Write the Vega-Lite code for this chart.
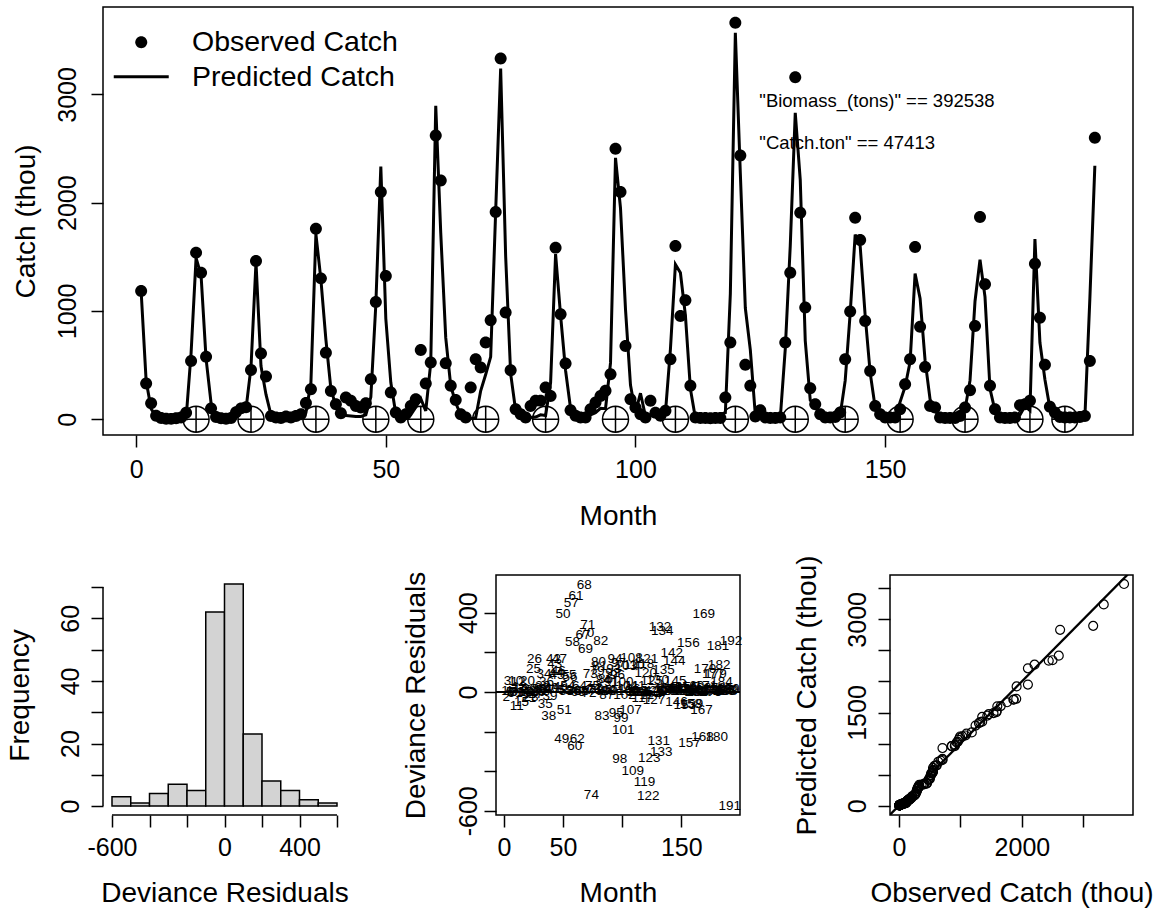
{
  "$schema": "https://vega.github.io/schema/vega-lite/v6.json",
  "background": "white",
  "padding": {"left": 6, "top": 6, "right": 10, "bottom": 5},
  "config": {
    "font": "Liberation Sans",
    "view": {"stroke": "black", "strokeWidth": 1.5},
    "axis": {"grid": false, "domain": false, "tickColor": "black", "tickWidth": 1.5, "tickSize": 12,
      "labelColor": "black", "labelFont": "Liberation Sans", "labelFontSize": 25, "labelPadding": 8,
      "labelFlush": false, "labelOverlap": false, "titleColor": "black", "titleFont": "Liberation Sans",
      "titleFontSize": 28, "titleFontWeight": "normal", "titlePadding": 19},
    "axisY": {"labelAngle": -90, "labelAlign": "center", "labelBaseline": "bottom"},
    "axisX": {"labelBaseline": "top"}
  },
  "datasets": {
    "catch": [
      {"month":1,"obs":1185,"pred":1180,"resid":5},{"month":2,"obs":329,"pred":355,"resid":-26},{"month":3,"obs":148,"pred":95,"resid":53},{"month":4,"obs":31,"pred":25,"resid":6},{"month":5,"obs":10,"pred":12,"resid":-2},{"month":6,"obs":5,"pred":8,"resid":-3},{"month":7,"obs":3,"pred":6,"resid":-3},{"month":8,"obs":8,"pred":8,"resid":0},{"month":9,"obs":15,"pred":14,"resid":1},{"month":10,"obs":60,"pred":5,"resid":55},
      {"month":11,"obs":538,"pred":609,"resid":-71},{"month":12,"obs":1538,"pred":1490,"resid":48},{"month":13,"obs":1354,"pred":1330,"resid":24},{"month":14,"obs":578,"pred":560,"resid":18},{"month":15,"obs":100,"pred":150,"resid":-50},{"month":16,"obs":20,"pred":25,"resid":-5},{"month":17,"obs":8,"pred":10,"resid":-2},{"month":18,"obs":5,"pred":7,"resid":-2},{"month":19,"obs":10,"pred":8,"resid":2},{"month":20,"obs":65,"pred":8,"resid":57},
      {"month":21,"obs":100,"pred":130,"resid":-30},{"month":22,"obs":110,"pred":95,"resid":15},{"month":23,"obs":455,"pred":480,"resid":-25},{"month":24,"obs":1461,"pred":1450,"resid":11},{"month":25,"obs":606,"pred":491,"resid":115},{"month":26,"obs":394,"pred":229,"resid":165},{"month":27,"obs":30,"pred":40,"resid":-10},{"month":28,"obs":15,"pred":12,"resid":3},{"month":29,"obs":10,"pred":8,"resid":2},{"month":30,"obs":25,"pred":8,"resid":17},
      {"month":31,"obs":15,"pred":8,"resid":7},{"month":32,"obs":30,"pred":10,"resid":20},{"month":33,"obs":45,"pred":15,"resid":30},{"month":34,"obs":150,"pred":60,"resid":90},{"month":35,"obs":277,"pred":339,"resid":-62},{"month":36,"obs":1760,"pred":1710,"resid":50},{"month":37,"obs":1301,"pred":1290,"resid":11},{"month":38,"obs":615,"pred":736,"resid":-121},{"month":39,"obs":261,"pred":280,"resid":-19},{"month":40,"obs":138,"pred":120,"resid":18},
      {"month":41,"obs":55,"pred":40,"resid":15},{"month":42,"obs":200,"pred":35,"resid":165},{"month":43,"obs":170,"pred":30,"resid":140},{"month":44,"obs":123,"pred":25,"resid":98},{"month":45,"obs":108,"pred":25,"resid":83},{"month":46,"obs":148,"pred":40,"resid":108},{"month":47,"obs":369,"pred":204,"resid":165},{"month":48,"obs":1083,"pred":1060,"resid":23},{"month":49,"obs":2098,"pred":2334,"resid":-236},{"month":50,"obs":1323,"pred":928,"resid":395},
      {"month":51,"obs":246,"pred":339,"resid":-93},{"month":52,"obs":62,"pred":50,"resid":12},{"month":53,"obs":15,"pred":10,"resid":5},{"month":54,"obs":46,"pred":15,"resid":31},{"month":55,"obs":123,"pred":40,"resid":83},{"month":56,"obs":185,"pred":110,"resid":75},{"month":57,"obs":640,"pred":189,"resid":451},{"month":58,"obs":329,"pred":77,"resid":252},{"month":59,"obs":523,"pred":520,"resid":3},{"month":60,"obs":2622,"pred":2895,"resid":-273},
      {"month":61,"obs":2206,"pred":1721,"resid":485},{"month":62,"obs":517,"pred":753,"resid":-236},{"month":63,"obs":308,"pred":310,"resid":-2},{"month":64,"obs":178,"pred":150,"resid":28},{"month":65,"obs":46,"pred":40,"resid":6},{"month":66,"obs":15,"pred":10,"resid":5},{"month":67,"obs":292,"pred":5,"resid":287},{"month":68,"obs":554,"pred":14,"resid":540},{"month":69,"obs":477,"pred":262,"resid":215},{"month":70,"obs":708,"pred":413,"resid":295},
      {"month":71,"obs":914,"pred":576,"resid":338},{"month":72,"obs":1914,"pred":1920,"resid":-6},{"month":73,"obs":3332,"pred":3240,"resid":92},{"month":74,"obs":985,"pred":1505,"resid":-520},{"month":75,"obs":452,"pred":420,"resid":32},{"month":76,"obs":92,"pred":80,"resid":12},{"month":77,"obs":46,"pred":30,"resid":16},{"month":78,"obs":15,"pred":10,"resid":5},{"month":79,"obs":123,"pred":16,"resid":107},{"month":80,"obs":170,"pred":20,"resid":150},
      {"month":81,"obs":170,"pred":40,"resid":130},{"month":82,"obs":292,"pred":34,"resid":258},{"month":83,"obs":215,"pred":336,"resid":-121},{"month":84,"obs":1585,"pred":1525,"resid":60},{"month":85,"obs":969,"pred":960,"resid":9},{"month":86,"obs":514,"pred":450,"resid":64},{"month":87,"obs":83,"pred":100,"resid":-17},{"month":88,"obs":31,"pred":25,"resid":6},{"month":89,"obs":15,"pred":10,"resid":5},{"month":90,"obs":15,"pred":10,"resid":5},
      {"month":91,"obs":92,"pred":40,"resid":52},{"month":92,"obs":154,"pred":60,"resid":94},{"month":93,"obs":215,"pred":100,"resid":115},{"month":94,"obs":262,"pred":97,"resid":165},{"month":95,"obs":415,"pred":520,"resid":-105},{"month":96,"obs":2498,"pred":2415,"resid":83},{"month":97,"obs":2098,"pred":1950,"resid":148},{"month":98,"obs":677,"pred":1017,"resid":-340},{"month":99,"obs":185,"pred":315,"resid":-130},{"month":100,"obs":108,"pred":60,"resid":48},
      {"month":101,"obs":46,"pred":240,"resid":-194},{"month":102,"obs":15,"pred":30,"resid":-15},{"month":103,"obs":170,"pred":40,"resid":130},{"month":104,"obs":60,"pred":30,"resid":30},{"month":105,"obs":31,"pred":25,"resid":6},{"month":106,"obs":77,"pred":60,"resid":17},{"month":107,"obs":554,"pred":647,"resid":-93},{"month":108,"obs":1600,"pred":1430,"resid":170},{"month":109,"obs":954,"pred":1353,"resid":-399},{"month":110,"obs":1098,"pred":960,"resid":138},
      {"month":111,"obs":308,"pred":280,"resid":28},{"month":112,"obs":15,"pred":10,"resid":5},{"month":113,"obs":10,"pred":8,"resid":2},{"month":114,"obs":10,"pred":8,"resid":2},{"month":115,"obs":8,"pred":8,"resid":0},{"month":116,"obs":10,"pred":8,"resid":2},{"month":117,"obs":12,"pred":45,"resid":-33},{"month":118,"obs":200,"pred":60,"resid":140},{"month":119,"obs":708,"pred":1161,"resid":-453},{"month":120,"obs":3662,"pred":3569,"resid":93},
      {"month":121,"obs":2437,"pred":2270,"resid":167},{"month":122,"obs":502,"pred":1027,"resid":-525},{"month":123,"obs":308,"pred":640,"resid":-332},{"month":124,"obs":25,"pred":40,"resid":-15},{"month":125,"obs":83,"pred":30,"resid":53},{"month":126,"obs":15,"pred":10,"resid":5},{"month":127,"obs":10,"pred":50,"resid":-40},{"month":128,"obs":12,"pred":10,"resid":2},{"month":129,"obs":15,"pred":10,"resid":5},{"month":130,"obs":708,"pred":650,"resid":58},
      {"month":131,"obs":1354,"pred":1604,"resid":-250},{"month":132,"obs":3160,"pred":2831,"resid":329},{"month":133,"obs":1908,"pred":2211,"resid":-303},{"month":134,"obs":1031,"pred":726,"resid":305},{"month":135,"obs":286,"pred":176,"resid":110},{"month":136,"obs":138,"pred":120,"resid":18},{"month":137,"obs":46,"pred":30,"resid":16},{"month":138,"obs":15,"pred":10,"resid":5},{"month":139,"obs":15,"pred":10,"resid":5},{"month":140,"obs":20,"pred":12,"resid":8},
      {"month":141,"obs":62,"pred":40,"resid":22},{"month":142,"obs":554,"pred":356,"resid":198},{"month":143,"obs":994,"pred":980,"resid":14},{"month":144,"obs":1862,"pred":1705,"resid":157},{"month":145,"obs":1655,"pred":1600,"resid":55},{"month":146,"obs":908,"pred":958,"resid":-50},{"month":147,"obs":446,"pred":430,"resid":16},{"month":148,"obs":123,"pred":110,"resid":13},{"month":149,"obs":46,"pred":30,"resid":16},{"month":150,"obs":15,"pred":10,"resid":5},
      {"month":151,"obs":15,"pred":10,"resid":5},{"month":152,"obs":15,"pred":10,"resid":5},{"month":153,"obs":92,"pred":160,"resid":-68},{"month":154,"obs":323,"pred":300,"resid":23},{"month":155,"obs":554,"pred":530,"resid":24},{"month":156,"obs":1591,"pred":1345,"resid":246},{"month":157,"obs":855,"pred":1115,"resid":-260},{"month":158,"obs":483,"pred":543,"resid":-60},{"month":159,"obs":123,"pred":183,"resid":-60},{"month":160,"obs":108,"pred":80,"resid":28},
      {"month":161,"obs":15,"pred":12,"resid":3},{"month":162,"obs":10,"pred":8,"resid":2},{"month":163,"obs":10,"pred":8,"resid":2},{"month":164,"obs":12,"pred":10,"resid":2},{"month":165,"obs":30,"pred":20,"resid":10},{"month":166,"obs":108,"pred":90,"resid":18},{"month":167,"obs":268,"pred":358,"resid":-90},{"month":168,"obs":862,"pred":1090,"resid":-228},{"month":169,"obs":1868,"pred":1473,"resid":395},{"month":170,"obs":1246,"pred":1130,"resid":116},
      {"month":171,"obs":308,"pred":280,"resid":28},{"month":172,"obs":92,"pred":80,"resid":12},{"month":173,"obs":15,"pred":12,"resid":3},{"month":174,"obs":10,"pred":8,"resid":2},{"month":175,"obs":10,"pred":8,"resid":2},{"month":176,"obs":15,"pred":10,"resid":5},{"month":177,"obs":130,"pred":40,"resid":90},{"month":178,"obs":138,"pred":120,"resid":18},{"month":179,"obs":170,"pred":80,"resid":90},{"month":180,"obs":1437,"pred":1665,"resid":-228},
      {"month":181,"obs":938,"pred":708,"resid":230},{"month":182,"obs":502,"pred":367,"resid":135},{"month":183,"obs":114,"pred":100,"resid":14},{"month":184,"obs":62,"pred":12,"resid":50},{"month":185,"obs":20,"pred":10,"resid":10},{"month":186,"obs":15,"pred":10,"resid":5},{"month":187,"obs":15,"pred":10,"resid":5},{"month":188,"obs":15,"pred":10,"resid":5},{"month":189,"obs":20,"pred":10,"resid":10},{"month":190,"obs":30,"pred":15,"resid":15},
      {"month":191,"obs":538,"pred":1114,"resid":-576},{"month":192,"obs":2600,"pred":2342,"resid":258}
    ],
    "spawn": [{"month":12},{"month":23},{"month":36},{"month":48},{"month":57},{"month":70},{"month":82},{"month":96},{"month":108},{"month":120},{"month":132},{"month":142},{"month":153},{"month":166},{"month":179},{"month":186}],
    "annot": [
      {"month":124.8,"catch":2940,"label":"\"Biomass_(tons)\" == 392538"},
      {"month":124.8,"catch":2552,"label":"\"Catch.ton\" == 47413"}
    ],
    "hist": [
      {"lo":-600,"hi":-500,"n":3},{"lo":-500,"hi":-400,"n":1},{"lo":-400,"hi":-300,"n":4},{"lo":-300,"hi":-200,"n":7},
      {"lo":-200,"hi":-100,"n":5},{"lo":-100,"hi":0,"n":62},{"lo":0,"hi":100,"n":71},{"lo":100,"hi":200,"n":23},
      {"lo":200,"hi":300,"n":8},{"lo":300,"hi":400,"n":5},{"lo":400,"hi":500,"n":2},{"lo":500,"hi":600,"n":1}
    ]
  },
  "bounds": "flush",
  "spacing": 140,
  "vconcat": [
    {
      "width": 1030,
      "height": 428,
      "encoding": {
        "x": {"type": "quantitative", "scale": {"domain": [-6.64, 199.64], "nice": false, "zero": false},
          "axis": {"title": "Month", "values": [0, 50, 100, 150], "labelPadding": 10, "titlePadding": 20,
            "labelExpr": "'' + datum.value"}},
        "y": {"type": "quantitative", "scale": {"domain": [-146, 3808], "nice": false, "zero": false},
          "axis": {"title": "Catch (thou)", "values": [0, 1000, 2000, 3000], "labelPadding": 11, "titlePadding": 15,
            "labelExpr": "'' + datum.value"}}
      },
      "layer": [
        {
          "data": {"name": "annot"},
          "mark": {"type": "text", "align": "left", "baseline": "middle", "fontSize": 18.5, "font": "Liberation Sans", "color": "black"},
          "encoding": {"x": {"field": "month"}, "y": {"field": "catch"}, "text": {"field": "label"}}
        },
        {
          "data": {"name": "catch"},
          "mark": {"type": "line", "color": "black", "strokeWidth": 3},
          "encoding": {"x": {"field": "month"}, "y": {"field": "pred"}}
        },
        {
          "data": {"name": "catch"},
          "mark": {"type": "point", "filled": true, "color": "black", "strokeWidth": 0, "size": 756, "opacity": 1},
          "encoding": {
            "x": {"field": "month"}, "y": {"field": "obs"},
            "shape": {"datum": "Observed Catch", "type": "nominal",
              "scale": {"domain": ["Observed Catch", "Predicted Catch"],
                "range": ["M-0.436,0A0.436,0.436 0 1,0 0.436,0A0.436,0.436 0 1,0 -0.436,0Z", "M-2,-0.11L2,-0.11L2,0.11L-2,0.11Z"]},
              "legend": {"title": null, "orient": "none", "legendX": 24, "legendY": 21, "padding": 0,
                "labelFontSize": 28.5, "labelFont": "Liberation Sans", "labelColor": "black", "labelOffset": 36.5,
                "labelLimit": 0, "symbolSize": 756, "symbolFillColor": "black", "symbolStrokeWidth": 0,
                "symbolOpacity": 1, "rowPadding": 5.5}}
          }
        },
        {
          "data": {"name": "spawn"},
          "mark": {"type": "point", "shape": "M-1,0A1,1 0 1,0 1,0A1,1 0 1,0 -1,0M-1,0L1,0M0,-1L0,1", "filled": false, "stroke": "black", "strokeWidth": 1.5, "size": 676, "opacity": 1},
          "encoding": {"x": {"field": "month"}, "y": {"datum": 0}}
        }
      ]
    },
    {
      "bounds": "flush",
      "spacing": 150,
      "hconcat": [
        {
          "width": 243,
          "height": 240,
          "view": {"stroke": null},
          "encoding": {
            "x": {"type": "quantitative", "scale": {"domain": [-648, 648], "nice": false, "zero": false},
              "axis": {"title": "Deviance Residuals", "values": [-600, -400, -200, 0, 200, 400, 600],
                "labelExpr": "indexof([-600, 0, 400], datum.value) >= 0 ? '' + datum.value : ''"}},
            "y": {"type": "quantitative", "scale": {"domain": [-2.84, 73.84], "nice": false, "zero": false},
              "axis": {"title": "Frequency", "values": [0, 10, 20, 30, 40, 50, 60, 70], "titlePadding": 24,
                "labelExpr": "datum.value % 20 == 0 ? '' + datum.value : ''"}}
          },
          "layer": [
            {
              "data": {"name": "hist"},
              "mark": {"type": "bar", "fill": "#d3d3d3", "stroke": "black", "strokeWidth": 1.5},
              "encoding": {"x": {"field": "lo"}, "x2": {"field": "hi"}, "y": {"field": "n"}, "y2": {"datum": 0}}
            },
            {
              "data": {"values": [{"lo": -600, "hi": 600}]},
              "mark": {"type": "rule", "color": "black", "strokeWidth": 1.5},
              "encoding": {"x": {"field": "lo"}, "x2": {"field": "hi"}, "y": {"datum": -2.84}}
            },
            {
              "data": {"values": [{"lo": 0, "hi": 70}]},
              "mark": {"type": "rule", "color": "black", "strokeWidth": 1.5},
              "encoding": {"y": {"field": "lo"}, "y2": {"field": "hi"}, "x": {"datum": -648}}
            }
          ]
        },
        {
          "width": 244,
          "height": 240,
          "encoding": {
            "x": {"type": "quantitative", "scale": {"domain": [-6.64, 199.64], "nice": false, "zero": false},
              "axis": {"title": "Month", "values": [0, 50, 100, 150],
                "labelExpr": "datum.value == 100 ? '' : '' + datum.value"}},
            "y": {"type": "quantitative", "scale": {"domain": [-621, 590], "nice": false, "zero": false},
              "axis": {"title": "Deviance Residuals", "values": [-600, -400, -200, 0, 200, 400], "labelPadding": 3, "titlePadding": 26,
                "labelExpr": "indexof([-600, 0, 400], datum.value) >= 0 ? '' + datum.value : ''"}}
          },
          "layer": [
            {
              "data": {"values": [{"h": 0}]},
              "mark": {"type": "rule", "color": "black", "strokeWidth": 2},
              "encoding": {"y": {"field": "h"}}
            },
            {
              "data": {"name": "catch"},
              "mark": {"type": "text", "fontSize": 13.5, "font": "Liberation Sans", "color": "black", "align": "center", "baseline": "middle"},
              "encoding": {"x": {"field": "month"}, "y": {"field": "resid"}, "text": {"field": "month", "type": "nominal"}}
            }
          ]
        },
        {
          "width": 243,
          "height": 240,
          "encoding": {
            "x": {"type": "quantitative", "scale": {"domain": [-146, 3808], "nice": false, "zero": false},
              "axis": {"title": "Observed Catch (thou)", "values": [0, 1000, 2000, 3000],
                "labelExpr": "datum.value == 0 || datum.value == 2000 ? '' + datum.value : ''"}},
            "y": {"type": "quantitative", "scale": {"domain": [-150, 3714], "nice": false, "zero": false},
              "axis": {"title": "Predicted Catch (thou)", "values": [0, 500, 1000, 1500, 2000, 2500, 3000, 3500], "titlePadding": 24,
                "labelExpr": "datum.value % 1500 == 0 ? '' + datum.value : ''"}}
          },
          "layer": [
            {
              "data": {"values": [{"a": -300, "b": 4000}]},
              "mark": {"type": "rule", "color": "black", "strokeWidth": 2.3, "clip": true},
              "encoding": {"x": {"field": "a"}, "y": {"field": "a"}, "x2": {"field": "b"}, "y2": {"field": "b"}}
            },
            {
              "data": {"name": "catch"},
              "transform": [
                {"fold": ["obs", "pred"], "as": ["series", "val"]},
                {"window": [{"op": "row_number", "as": "rank"}], "groupby": ["series"], "sort": [{"field": "val", "order": "ascending"}]},
                {"pivot": "series", "value": "val", "groupby": ["rank"]}
              ],
              "mark": {"type": "point", "shape": "circle", "filled": false, "stroke": "black", "strokeWidth": 1.2, "size": 80, "opacity": 1},
              "encoding": {"x": {"field": "obs"}, "y": {"field": "pred"}}
            }
          ]
        }
      ]
    }
  ]
}
